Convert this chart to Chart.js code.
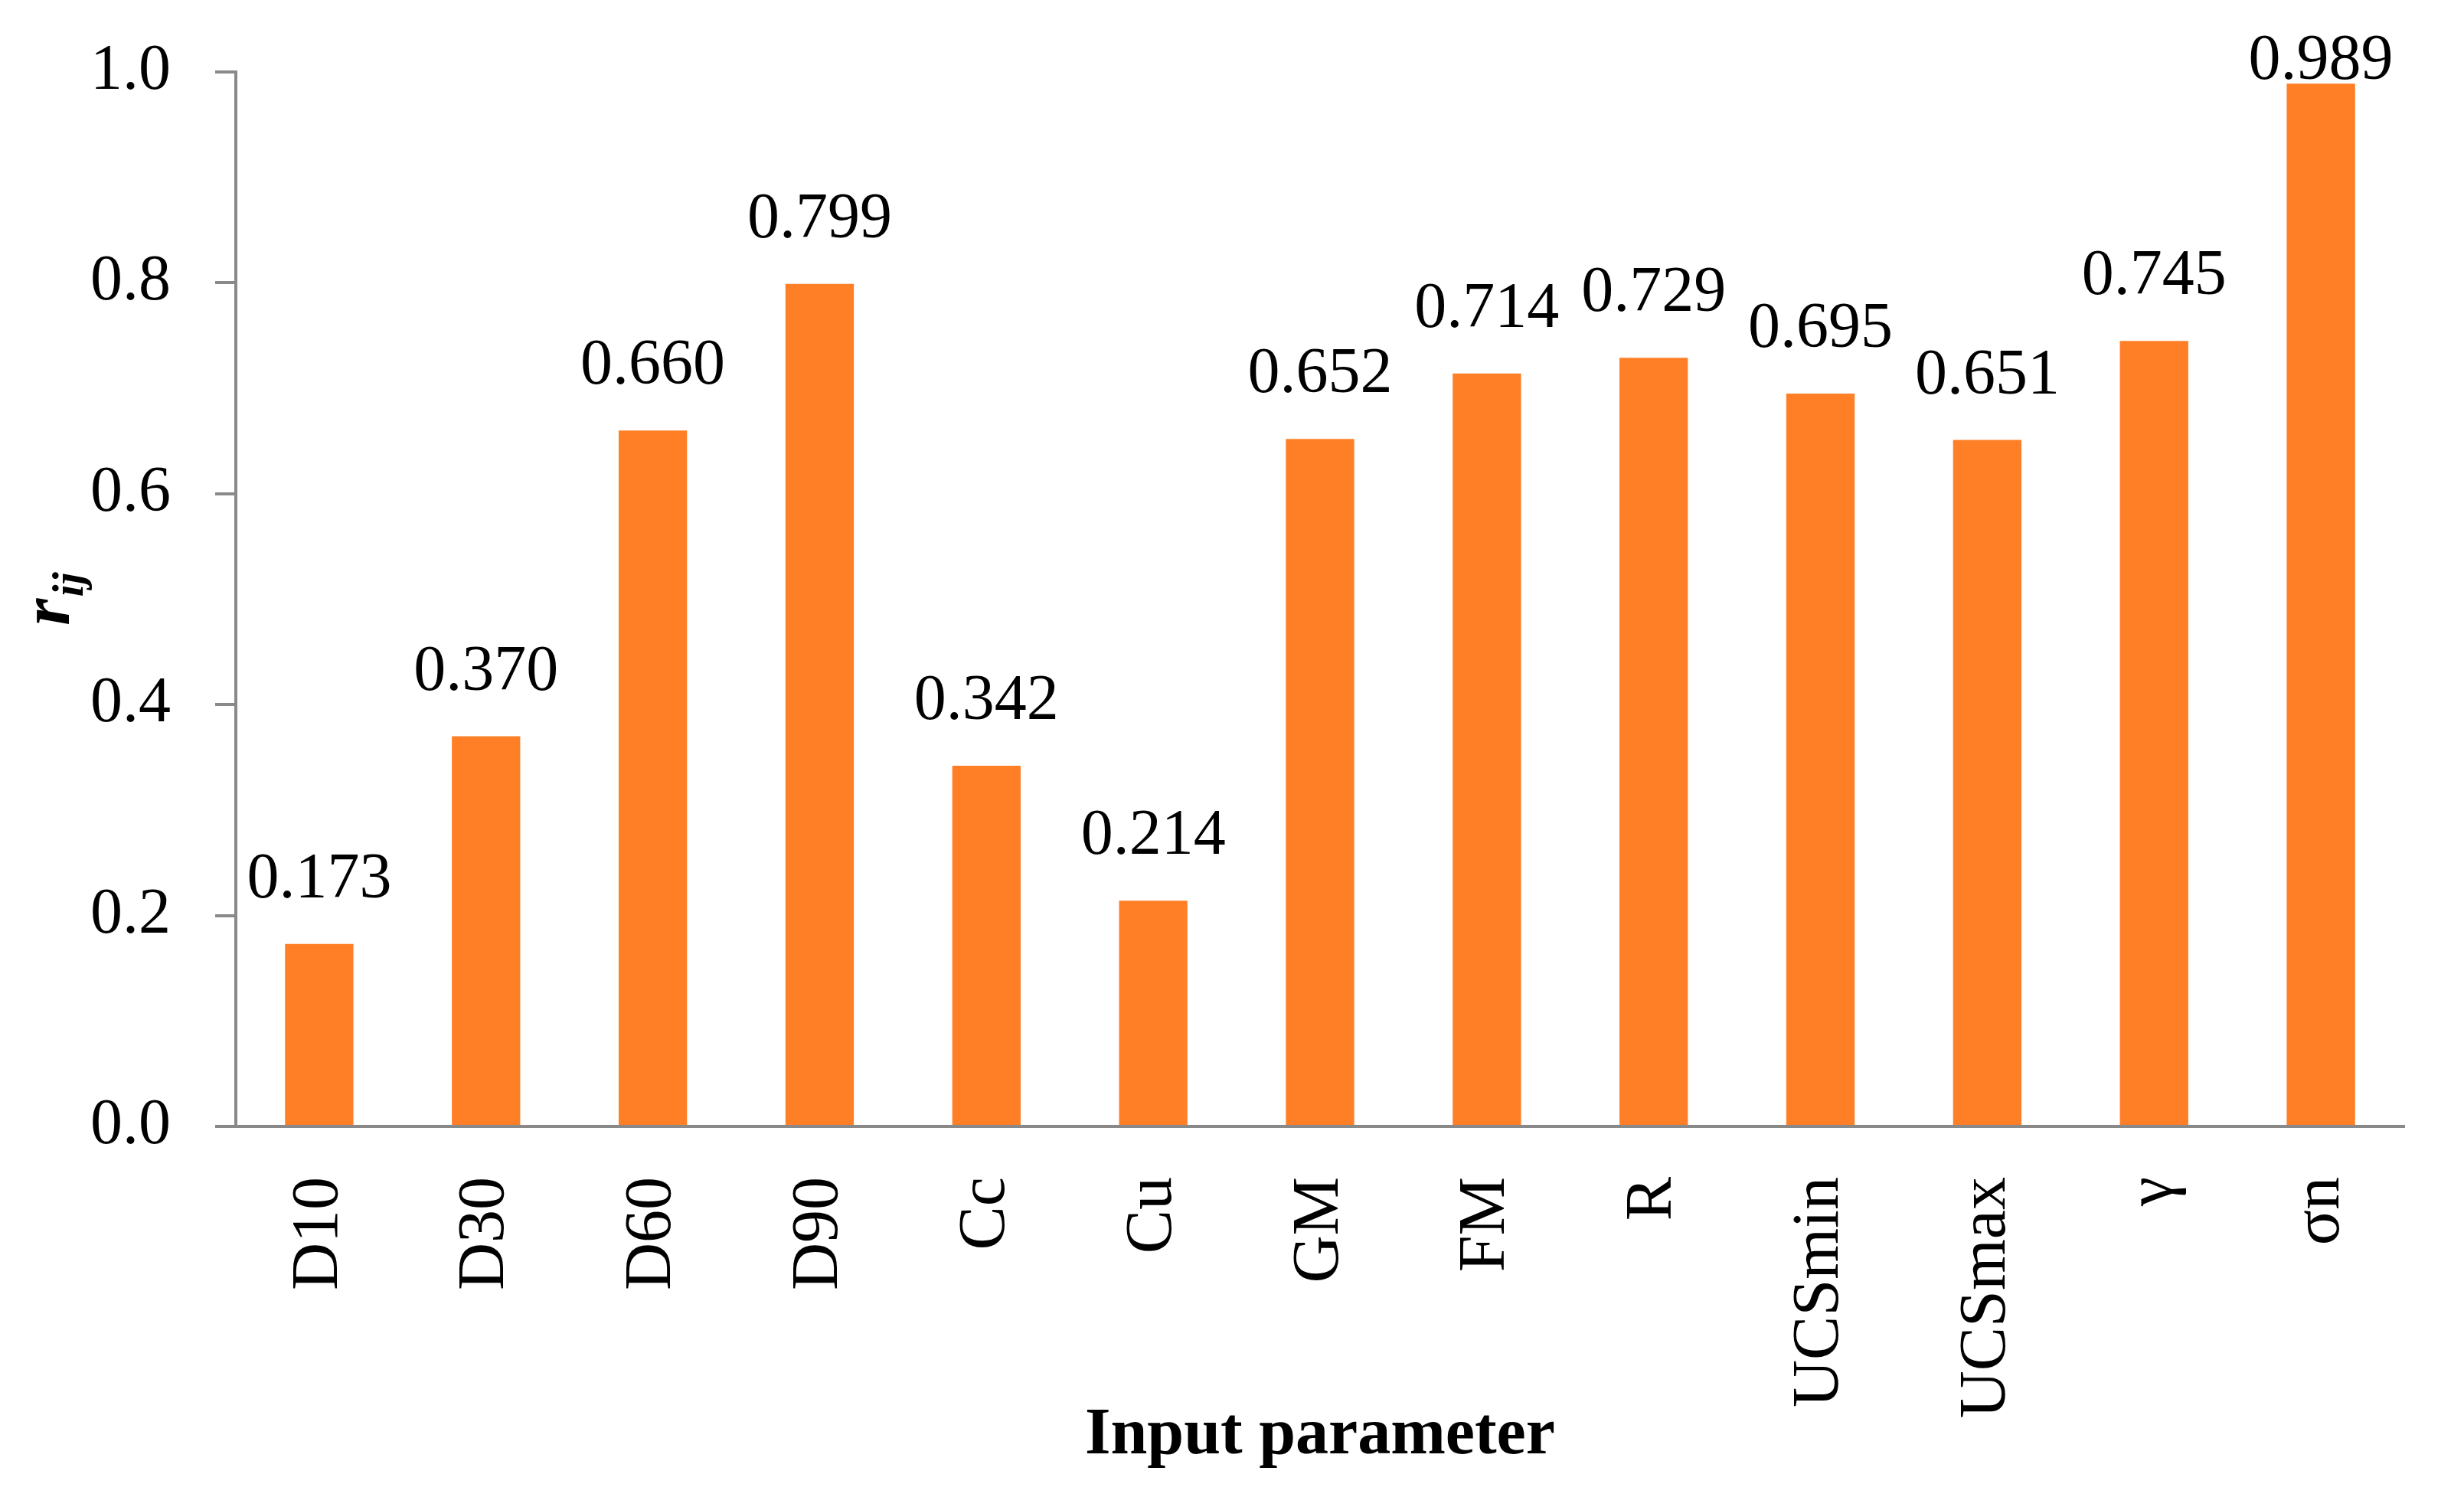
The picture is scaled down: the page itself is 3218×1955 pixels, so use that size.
<!DOCTYPE html>
<html>
<head>
<meta charset="utf-8">
<script src="https://cdn.jsdelivr.net/npm/chart.js@4/dist/chart.umd.min.js"></script>
<style>
  html, body { margin: 0; padding: 0; background: #ffffff; }
  #wrap { width: 3218px; height: 1955px; }
</style>
</head>
<body>
<div id="wrap"><canvas id="c" width="3218" height="1955"></canvas></div>
<script>
const categories = ["D10", "D30", "D60", "D90", "Cc", "Cu", "GM", "FM", "R", "UCSmin", "UCSmax", "\u03B3", "\u03C3n"];
const rijValues = [0.173, 0.370, 0.660, 0.799, 0.342, 0.214, 0.652, 0.714, 0.729, 0.695, 0.651, 0.745, 0.989];
const yTicks = [0.0, 0.2, 0.4, 0.6, 0.8, 1.0];
const xTitle = "Input parameter";

const FONT = "'Liberation Serif', 'Times New Roman', serif";
const AXIS_GRAY = '#898989';
const BAR_COLOR = '#FF7F27';

const dataLabels = {
  id: 'dataLabels',
  afterDatasetsDraw(chart) {
    const ctx = chart.ctx;
    const meta = chart.getDatasetMeta(0);
    const minBaseline = chart.chartArea.top + 9;
    ctx.save();
    ctx.font = '84px ' + FONT;
    ctx.fillStyle = '#000';
    ctx.textAlign = 'center';
    ctx.textBaseline = 'alphabetic';
    meta.data.forEach((bar, i) => {
      const yb = Math.max(bar.y - 61, minBaseline);
      ctx.fillText(rijValues[i].toFixed(3), bar.x, yb);
    });
    ctx.restore();
  }
};

const yTitle = {
  id: 'yTitle',
  afterDraw(chart) {
    const ctx = chart.ctx;
    ctx.save();
    ctx.translate(90, 782);
    ctx.rotate(-Math.PI / 2);
    ctx.fillStyle = '#000';
    ctx.textBaseline = 'alphabetic';
    ctx.textAlign = 'left';
    const bigFont = 'italic bold 90px ' + FONT;
    const smallFont = 'italic bold 58px ' + FONT;
    ctx.font = bigFont;
    const wr = ctx.measureText('r').width;
    ctx.font = smallFont;
    const ws = ctx.measureText('ij').width;
    const total = wr + ws + 2;
    ctx.font = bigFont;
    ctx.fillText('r', -total / 2, 0);
    ctx.font = smallFont;
    ctx.fillText('ij', -total / 2 + wr + 2, 18);
    ctx.restore();
  }
};

new Chart(document.getElementById('c'), {
  type: 'bar',
  data: {
    labels: categories,
    datasets: [{
      data: rijValues,
      backgroundColor: BAR_COLOR,
      borderWidth: 0,
      categoryPercentage: 1.0,
      barPercentage: 0.41
    }]
  },
  options: {
    responsive: false,
    animation: false,
    devicePixelRatio: 1,
    layout: { padding: { left: 0, right: 78, top: 94, bottom: 0 } },
    plugins: {
      legend: { display: false },
      tooltip: { enabled: false },
      title: { display: false }
    },
    scales: {
      x: {
        afterFit(scale) { scale.height = 484; scale.paddingLeft = 0; scale.paddingRight = 0; },
        grid: { display: false, drawTicks: false },
        border: { display: true, color: AXIS_GRAY, width: 4 },
        ticks: {
          autoSkip: false,
          maxRotation: 90,
          minRotation: 90,
          padding: 66,
          color: '#000',
          font: { family: FONT, size: 86 }
        },
        title: {
          display: true,
          text: xTitle,
          color: '#000',
          font: { family: FONT, size: 86, weight: 'bold' },
          padding: { top: 0, bottom: 28 }
        }
      },
      y: {
        min: 0,
        max: 1,
        afterFit(scale) { scale.width = 308; scale.paddingTop = 0; scale.paddingBottom = 0; },
        afterBuildTicks(scale) { scale.ticks = yTicks.map(v => ({ value: v })); },
        grid: { drawOnChartArea: false, drawTicks: true, tickLength: 27, color: AXIS_GRAY, lineWidth: 4 },
        border: { display: true, color: AXIS_GRAY, width: 4 },
        ticks: {
          padding: 58,
          color: '#000',
          font: { family: FONT, size: 84 },
          callback: (v) => Number(v).toFixed(1)
        }
      }
    }
  },
  plugins: [dataLabels, yTitle]
});
</script>
</body>
</html>
